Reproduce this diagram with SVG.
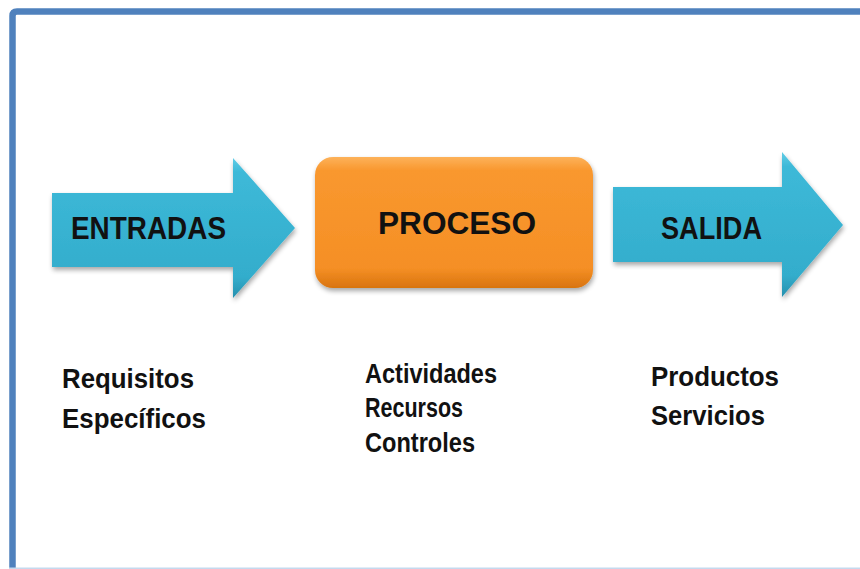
<svg xmlns="http://www.w3.org/2000/svg" width="860" height="569" viewBox="0 0 860 569">
  <defs>
    <linearGradient id="gBlue" x1="0" y1="0" x2="0" y2="1">
      <stop offset="0" stop-color="#62CDE6"/>
      <stop offset="0.1" stop-color="#3DB9D8"/>
      <stop offset="0.85" stop-color="#33ADCC"/>
      <stop offset="1" stop-color="#2690AE"/>
    </linearGradient>
    <linearGradient id="gOrange" x1="0" y1="0" x2="0" y2="1">
      <stop offset="0" stop-color="#FDB25A"/>
      <stop offset="0.1" stop-color="#F9982F"/>
      <stop offset="0.85" stop-color="#F58F25"/>
      <stop offset="1" stop-color="#D8740F"/>
    </linearGradient>
    <filter id="shadow" x="-10%" y="-10%" width="120%" height="130%">
      <feGaussianBlur in="SourceAlpha" stdDeviation="2.5"/>
      <feOffset dx="1" dy="3" result="b"/>
      <feComponentTransfer><feFuncA type="linear" slope="0.35"/></feComponentTransfer>
      <feMerge><feMergeNode/><feMergeNode in="SourceGraphic"/></feMerge>
    </filter>
  </defs>
  <style>
    .lbl{font-family:"Liberation Sans",Arial,sans-serif;font-weight:bold;fill:#111;}
    .big{font-size:32px;}
    .small{font-size:28px;}
    .frame{fill:none;stroke:#4F81BD;stroke-width:6.5;}
  </style>
  <rect width="860" height="569" fill="#ffffff"/>
  <path class="frame" d="M12.5,575 V16 Q12.5,11.5 17,11.5 H870"/>
  <line x1="9" y1="568.2" x2="860" y2="568.2" stroke="#C5D9EE" stroke-width="1.5"/>

  <g id="entradas">
    <path d="M52,193 H233 V158 L295,228 L233,298 V267 H52 Z" fill="url(#gBlue)" filter="url(#shadow)"/>
    <text class="lbl big" x="71" y="239" textLength="155" lengthAdjust="spacingAndGlyphs">ENTRADAS</text>
  </g>

  <g id="proceso">
    <rect x="315" y="157" width="278" height="131" rx="18" fill="url(#gOrange)" filter="url(#shadow)"/>
    <text class="lbl big" x="378" y="234" textLength="158" lengthAdjust="spacingAndGlyphs">PROCESO</text>
  </g>

  <g id="salida">
    <path d="M613,187 H782 V152 L843,225 L782,297 V262 H613 Z" fill="url(#gBlue)" filter="url(#shadow)"/>
    <text class="lbl big" x="661" y="239" textLength="101" lengthAdjust="spacingAndGlyphs">SALIDA</text>
  </g>

  <g id="entradas-detail">
    <text class="lbl small" x="62" y="388" textLength="132" lengthAdjust="spacingAndGlyphs">Requisitos</text>
    <text class="lbl small" x="62" y="428" textLength="144" lengthAdjust="spacingAndGlyphs">Específicos</text>
  </g>

  <g id="proceso-detail">
    <text class="lbl small" x="365" y="383" textLength="132" lengthAdjust="spacingAndGlyphs">Actividades</text>
    <text class="lbl small" x="365" y="417" textLength="98" lengthAdjust="spacingAndGlyphs">Recursos</text>
    <text class="lbl small" x="365" y="452" textLength="110" lengthAdjust="spacingAndGlyphs">Controles</text>
  </g>

  <g id="salida-detail">
    <text class="lbl small" x="651" y="386" textLength="128" lengthAdjust="spacingAndGlyphs">Productos</text>
    <text class="lbl small" x="651" y="425" textLength="114" lengthAdjust="spacingAndGlyphs">Servicios</text>
  </g>

  <g id="connectors"></g>
</svg>
